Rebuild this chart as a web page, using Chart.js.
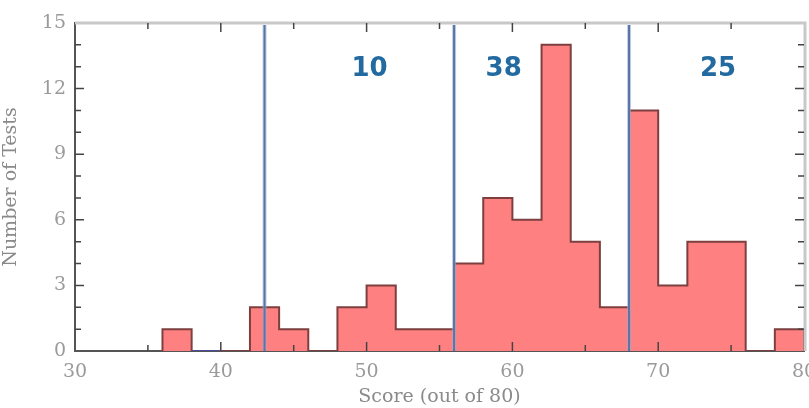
<!DOCTYPE html>
<html>
<head>
<meta charset="utf-8">
<script src="https://cdn.jsdelivr.net/npm/chart.js@4.4.0/dist/chart.umd.min.js"></script>
<style>
  html, body { margin: 0; padding: 0; background: #fff; }
  #wrap { width: 809px; height: 408px; }
</style>
</head>
<body>
<div id="wrap"><canvas id="histChart" width="809" height="408"></canvas></div>
<script>
// histogram bins (2 points wide), counts
const bin_starts = [36, 38, 40, 42, 44, 46, 48, 50, 52, 54, 56, 58, 60, 62, 64, 66, 68, 70, 72, 74, 76, 78];
const bin_counts = [1, 0, 0, 2, 1, 0, 2, 3, 1, 1, 4, 7, 6, 14, 5, 2, 11, 3, 5, 5, 0, 1];
const bin_width = 2;

// cut-off scores and the number of tests in each band
const cut_scores = [43, 56, 68];
const band_counts = ["10", "38", "25"];
const band_label_x = [50.2, 59.4, 74.1];

const x_ticks = [30, 40, 50, 60, 70, 80];
const y_ticks = [0, 3, 6, 9, 12, 15];

const label_font = { family: "DejaVu Serif", size: 19 };
const label_color = "#9a9a9a";

function histogramPoints() {
    const points = [{ x: bin_starts[0], y: 0 }];
    bin_starts.forEach((start, i) => {
        points.push({ x: start, y: bin_counts[i] });
    });
    const last = bin_starts.length - 1;
    points.push({ x: bin_starts[last] + bin_width, y: bin_counts[last] });
    points.push({ x: bin_starts[last] + bin_width, y: 0 });
    return points;
}

const frameAndMarks = {
    id: "frameAndMarks",
    afterDatasetsDraw(chart) {
        const ctx = chart.ctx;
        const area = chart.chartArea;
        const xs = chart.scales.x;
        const ys = chart.scales.y;

        // vertical cut lines
        ctx.save();
        cut_scores.forEach((score) => {
            const px = xs.getPixelForValue(score);
            ctx.strokeStyle = "rgba(150,175,210,0.6)";
            ctx.lineWidth = 4;
            ctx.beginPath();
            ctx.moveTo(px, area.top + 2);
            ctx.lineTo(px, area.bottom);
            ctx.stroke();
            ctx.strokeStyle = "#5a74a6";
            ctx.lineWidth = 2;
            ctx.beginPath();
            ctx.moveTo(px, area.top + 2);
            ctx.lineTo(px, area.bottom);
            ctx.stroke();
        });

        // band counts
        ctx.fillStyle = "#236aa0";
        ctx.font = "bold 26px 'DejaVu Sans'";
        ctx.textAlign = "center";
        ctx.textBaseline = "middle";
        band_counts.forEach((text, i) => {
            ctx.fillText(text, xs.getPixelForValue(band_label_x[i]), ys.getPixelForValue(12.9));
        });

        // top and right frame
        ctx.strokeStyle = "#c8c8c8";
        ctx.lineWidth = 3;
        ctx.beginPath();
        ctx.moveTo(area.left, area.top);
        ctx.lineTo(area.right + 1, area.top);
        ctx.lineTo(area.right + 1, area.bottom);
        ctx.stroke();

        // inward ticks
        ctx.strokeStyle = "#444";
        ctx.lineWidth = 1.5;
        for (let v = 35; v < 80; v += 5) {
            const px = xs.getPixelForValue(v);
            const len = v % 10 === 0 ? 9 : 6;
            ctx.beginPath();
            ctx.moveTo(px, area.top);
            ctx.lineTo(px, area.top + len);
            ctx.moveTo(px, area.bottom);
            ctx.lineTo(px, area.bottom - len);
            ctx.stroke();
        }
        for (let v = 1; v < 15; v++) {
            const py = ys.getPixelForValue(v);
            const len = v % 3 === 0 ? 9 : 6;
            ctx.beginPath();
            ctx.moveTo(area.left, py);
            ctx.lineTo(area.left + len, py);
            ctx.moveTo(area.right, py);
            ctx.lineTo(area.right - len, py);
            ctx.stroke();
        }
        ctx.restore();
    },
};

new Chart(document.getElementById("histChart"), {
    type: "line",
    data: {
        datasets: [{
            data: histogramPoints(),
            stepped: "before",
            fill: "origin",
            backgroundColor: "rgb(255,128,128)",
            borderColor: "#7d3f3f",
            borderWidth: 2,
            pointRadius: 0,
            segment: {
                borderColor: (c) =>
                    c.p0.parsed.y === 0 && c.p1.parsed.y === 0 ? "#4a4d9c" : undefined,
            },
        }],
    },
    options: {
        responsive: false,
        animation: false,
        layout: { padding: { top: 23, right: 5, left: 0, bottom: 0 } },
        plugins: {
            legend: { display: false },
            tooltip: { enabled: false },
        },
        scales: {
            x: {
                type: "linear",
                min: 30,
                max: 80,
                afterFit: (scale) => {
                    scale.height = 57;
                    scale.paddingLeft = 0;
                    scale.paddingRight = 0;
                },
                afterBuildTicks: (scale) => {
                    scale.ticks = x_ticks.map((v) => ({ value: v }));
                },
                ticks: { font: label_font, color: label_color, padding: 10, maxRotation: 0 },
                grid: { display: false, drawTicks: false },
                border: { color: "#555", width: 2 },
                title: {
                    display: true,
                    text: "Score (out of 80)",
                    font: { family: "DejaVu Serif", size: 19 },
                    color: "#8a8a8a",
                    padding: { top: 0, bottom: 0 },
                },
            },
            y: {
                min: 0,
                max: 15,
                afterFit: (scale) => {
                    scale.width = 75;
                    scale.paddingTop = 0;
                    scale.paddingBottom = 0;
                },
                afterBuildTicks: (scale) => {
                    scale.ticks = y_ticks.map((v) => ({ value: v }));
                },
                ticks: { font: label_font, color: label_color, padding: 9 },
                grid: { display: false, drawTicks: false },
                border: { color: "#555", width: 2 },
                title: {
                    display: true,
                    text: "Number of Tests",
                    font: { family: "DejaVu Serif", size: 19 },
                    color: "#8a8a8a",
                    padding: { top: 0, bottom: 4 },
                },
            },
        },
    },
    plugins: [frameAndMarks],
});
</script>
</body>
</html>
